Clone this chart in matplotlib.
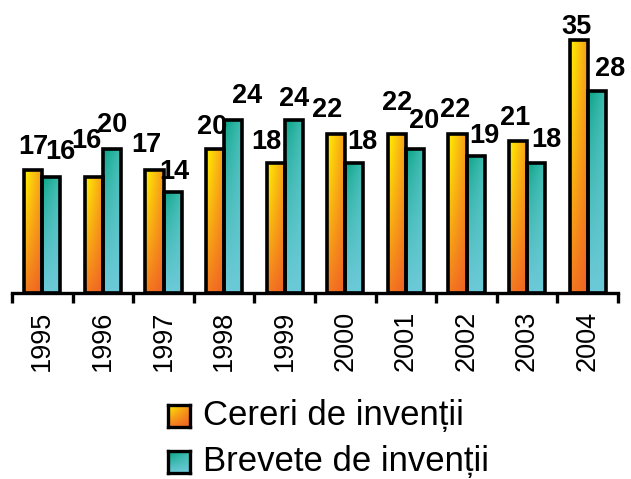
import matplotlib
matplotlib.use("Agg")
import matplotlib.pyplot as plt
import numpy as np
from matplotlib.colors import to_rgb
from matplotlib.patches import Rectangle

plt.rcParams['font.family'] = ['Liberation Sans', 'DejaVu Sans']

years = ['1995', '1996', '1997', '1998', '1999', '2000', '2001', '2002', '2003', '2004']
cereri = [17, 16, 17, 20, 18, 22, 22, 22, 21, 35]
brevete = [16, 20, 14, 24, 24, 18, 20, 19, 18, 28]
series_names = ['Cereri de invenții', 'Brevete de invenții']

# label nudges in pixels (dx, dy above bar top), as placed in the original
dx_c = [0, -7, -8, -3, -9, -9, 0, -2, -3, -2]
dy_c = [16, 29, 18, 14, 14, 17, 24, 17, 16, 6]
dx_b = [9, 0, 2, 14, 0, 8, 9, 9, 10, 13]
dy_b = [18, 17, 13, 17, 14, 14, 21, 13, 16, 15]

# gradient corners: top-left, top-right, bottom-left, bottom-right
orange = ['#FFF200', '#F7961D', '#F47B20', '#EF6024']
teal = ['#00A07E', '#3FBDB0', '#6CCAD8', '#6CCAD8']


def gradient(corners, n=64, vpow=1.0):
    tl, tr, bl, br = [np.array(to_rgb(c)) for c in corners]
    u = np.linspace(0, 1, n)[None, :, None]
    v = (np.linspace(0, 1, n) ** vpow)[:, None, None]
    top = tl * (1 - u) + tr * u
    bot = bl * (1 - u) + br * u
    return top * (1 - v) + bot * v


W, H = 631, 479
fig = plt.figure(figsize=(W / 100, H / 100), dpi=100)
ax = fig.add_axes([12 / W, 1 - 293 / H, 606 / W, 289 / H])

x = np.arange(len(years))
bw = 0.3
img_c = gradient(orange, vpow=1.2)
img_b = gradient(teal, vpow=0.6)

for i in x:
    for vals, img, off, dxs, dys in [(cereri, img_c, -bw, dx_c, dy_c),
                                     (brevete, img_b, 0, dx_b, dy_b)]:
        x0 = i + off
        h = vals[i]
        ax.imshow(img, extent=[x0, x0 + bw, 0, h], aspect='auto',
                  interpolation='bilinear', zorder=2)
        ax.add_patch(Rectangle((x0, 0), bw, h, facecolor='none', edgecolor='black',
                               linewidth=2.6, joinstyle='miter', zorder=3))
        ax.annotate(str(h), (x0 + bw / 2, h), xytext=(dxs[i], dys[i]),
                    textcoords='offset pixels', ha='center', va='baseline',
                    fontsize=19.5, fontweight='bold', zorder=4)

ax.set_xlim(-0.5, len(years) - 0.5)
ax.set_ylim(0, 40)

for s in ['top', 'left', 'right']:
    ax.spines[s].set_visible(False)
ax.spines['bottom'].set_linewidth(2.4)
ax.set_yticks([])

ax.set_xticks(np.arange(len(years) + 1) - 0.5)
ax.set_xticklabels([])
ax.tick_params(axis='x', which='major', direction='out', length=7, width=2.4)
ax.set_xticks(x, minor=True)
ax.set_xticklabels(years, minor=True, rotation=90, fontsize=19.5)
ax.tick_params(axis='x', which='minor', length=0, pad=13)

# legend
for k, (name, corners) in enumerate(zip(series_names, [orange, teal])):
    yc = [416, 462][k]
    lax = fig.add_axes([168 / W, 1 - (yc + 11) / H, 22 / W, 22 / H])
    lax.imshow(gradient(corners), aspect='auto', interpolation='bilinear')
    lax.set_xticks([])
    lax.set_yticks([])
    for s in lax.spines.values():
        s.set_linewidth(2.4)
    fig.text(203 / W, 1 - yc / H, name, fontsize=25, va='center', ha='left')

plt.savefig('out.png', dpi=100)
